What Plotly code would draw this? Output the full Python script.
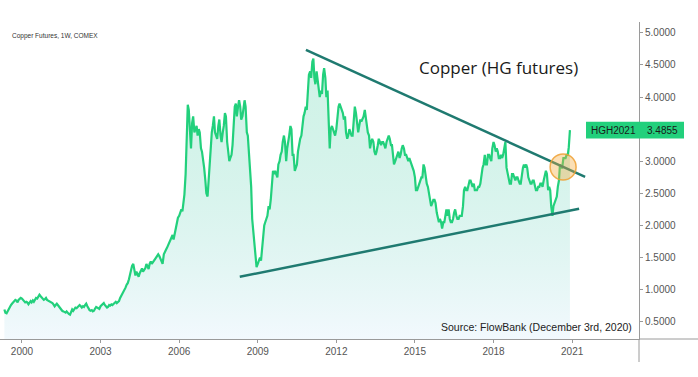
import pandas as pd
import plotly.graph_objects as go

# semi-monthly closes (1st and 15th of each month)
v1999 = [0.69, 0.64, 0.63, 0.66, 0.70, 0.74, 0.76, 0.78, 0.80, 0.82, 0.84, 0.83, 0.80, 0.84, 0.86, 0.87]
v2000 = [0.86, 0.84, 0.82, 0.80, 0.81, 0.80, 0.77, 0.79, 0.82, 0.80, 0.83, 0.81,
         0.85, 0.87, 0.86, 0.89, 0.92, 0.90, 0.88, 0.86, 0.84, 0.85, 0.87, 0.84]
v2001 = [0.83, 0.82, 0.81, 0.80, 0.79, 0.77, 0.74, 0.76, 0.78, 0.76, 0.73, 0.71,
         0.68, 0.67, 0.66, 0.65, 0.64, 0.66, 0.63, 0.62, 0.61, 0.66, 0.69, 0.67]
v2002 = [0.70, 0.72, 0.71, 0.73, 0.75, 0.76, 0.74, 0.72, 0.74, 0.73, 0.76, 0.78,
         0.74, 0.70, 0.68, 0.67, 0.68, 0.66, 0.67, 0.70, 0.73, 0.72, 0.71, 0.70]
v2003 = [0.74, 0.76, 0.77, 0.79, 0.76, 0.74, 0.72, 0.73, 0.76, 0.75, 0.77, 0.76,
         0.78, 0.80, 0.81, 0.79, 0.80, 0.82, 0.87, 0.90, 0.92, 0.95, 0.98, 1.03]
v2004 = [1.08, 1.10, 1.16, 1.25, 1.33, 1.37, 1.40, 1.32, 1.22, 1.28, 1.24, 1.20,
         1.26, 1.30, 1.33, 1.28, 1.30, 1.33, 1.40, 1.36, 1.32, 1.40, 1.44, 1.40]
v2005 = [1.42, 1.45, 1.48, 1.50, 1.52, 1.55, 1.52, 1.48, 1.45, 1.40, 1.55, 1.60,
         1.62, 1.65, 1.70, 1.72, 1.78, 1.82, 1.85, 1.78, 1.88, 1.95, 2.05, 2.12]
v2006 = [2.15, 2.20, 2.25, 2.22, 2.35, 2.48, 2.80, 3.30, 3.88, 3.80, 3.40, 3.20,
         3.60, 3.70, 3.45, 3.50, 3.55, 3.40, 3.50, 3.45, 3.20, 3.15, 3.05, 2.90]
v2007 = [2.70, 2.50, 2.45, 2.70, 2.95, 3.10, 3.45, 3.55, 3.70, 3.45, 3.40, 3.35,
         3.55, 3.65, 3.40, 3.30, 3.45, 3.55, 3.75, 3.70, 3.30, 3.10, 3.00, 3.05]
v2008 = [3.10, 3.25, 3.50, 3.85, 3.90, 3.70, 3.85, 3.95, 3.85, 3.65, 3.70, 3.80,
         3.95, 3.85, 3.45, 3.40, 3.10, 2.95, 2.60, 2.10, 1.85, 1.70, 1.45, 1.35]
v2009 = [1.40, 1.45, 1.50, 1.45, 1.65, 1.85, 2.00, 2.05, 2.10, 2.15, 2.30, 2.25,
         2.40, 2.65, 2.85, 2.80, 2.85, 2.80, 2.75, 2.95, 3.00, 3.10, 3.15, 3.30]
v2010 = [3.40, 3.30, 3.00, 3.20, 3.35, 3.40, 3.55, 3.50, 3.10, 3.10, 2.85, 2.90,
         2.95, 3.15, 3.30, 3.35, 3.40, 3.55, 3.70, 3.75, 3.85, 3.80, 4.10, 4.35]
v2011 = [4.40, 4.30, 4.55, 4.60, 4.30, 4.20, 4.40, 4.25, 4.05, 4.00, 4.10, 4.05,
         4.35, 4.45, 4.30, 4.00, 4.10, 3.55, 3.20, 3.50, 3.55, 3.50, 3.45, 3.40]
v2012 = [3.50, 3.70, 3.85, 3.90, 3.85, 3.80, 3.75, 3.65, 3.70, 3.45, 3.35, 3.40,
         3.50, 3.45, 3.40, 3.40, 3.60, 3.85, 3.75, 3.60, 3.45, 3.55, 3.65, 3.62]
v2013 = [3.68, 3.70, 3.80, 3.65, 3.55, 3.45, 3.40, 3.20, 3.30, 3.35, 3.30, 3.15,
         3.10, 3.15, 3.25, 3.35, 3.30, 3.25, 3.30, 3.30, 3.25, 3.20, 3.30, 3.35]
v2014 = [3.40, 3.35, 3.25, 3.25, 3.10, 2.95, 3.00, 3.05, 3.10, 3.15, 3.05, 3.10,
         3.20, 3.25, 3.20, 3.10, 3.10, 3.05, 3.00, 3.05, 3.00, 2.95, 2.90, 2.85]
v2015 = [2.75, 2.55, 2.55, 2.60, 2.65, 2.70, 2.75, 2.75, 2.95, 2.90, 2.75, 2.65,
         2.60, 2.50, 2.35, 2.30, 2.35, 2.40, 2.40, 2.35, 2.20, 2.10, 2.05, 2.10]
v2016 = [2.05, 1.95, 2.05, 2.05, 2.20, 2.25, 2.15, 2.25, 2.10, 2.05, 2.05, 2.10,
         2.20, 2.25, 2.15, 2.10, 2.10, 2.15, 2.15, 2.15, 2.30, 2.55, 2.60, 2.55]
v2017 = [2.55, 2.65, 2.70, 2.70, 2.65, 2.60, 2.65, 2.55, 2.55, 2.55, 2.60, 2.60,
         2.65, 2.80, 2.90, 2.95, 3.10, 2.95, 2.95, 3.10, 3.10, 3.05, 3.00, 3.20]
v2018 = [3.30, 3.25, 3.15, 3.20, 3.15, 3.05, 3.05, 3.10, 3.05, 3.10, 3.20, 3.30,
         2.90, 2.80, 2.75, 2.65, 2.65, 2.80, 2.80, 2.75, 2.70, 2.75, 2.75, 2.70]
v2019 = [2.65, 2.65, 2.80, 2.90, 2.95, 2.90, 2.95, 2.90, 2.75, 2.70, 2.65, 2.65,
         2.70, 2.70, 2.60, 2.55, 2.55, 2.60, 2.60, 2.65, 2.65, 2.60, 2.70, 2.80]
v2020 = [2.85, 2.80, 2.55, 2.60, 2.55, 2.30, 2.15, 2.30, 2.35, 2.40, 2.45, 2.60,
         2.70, 2.95, 2.90, 2.90, 3.05, 3.05, 3.05, 3.10, 3.10, 3.22, 3.4855]

last_label = "HGH2021"
last_price = 3.4855

# hand-drawn trend lines (date, price)
upper_dates = ["2010-11-03", "2021-07-01"]
upper_vals = [4.735, 2.757]
lower_dates = ["2008-04-25", "2021-04-08"]
lower_vals = [1.20, 2.26]
# highlight circle
circle_date = ["2020-08-28"]
circle_val = [2.91]

# the 3.5 tick is hidden behind the last-price label in the reference
yticks = [0.5, 1.0, 1.5, 2.0, 2.5, 3.0, 4.0, 4.5, 5.0]

values = (v1999 + v2000 + v2001 + v2002 + v2003 + v2004 + v2005 + v2006 + v2007 + v2008
          + v2009 + v2010 + v2011 + v2012 + v2013 + v2014 + v2015 + v2016 + v2017
          + v2018 + v2019 + v2020)
dates = pd.date_range("1999-05-01", periods=len(values), freq="SMS")

LINE = "#22d07c"
TEAL = "#1f7a70"
GRAY = "#555555"
AX = "#9a9a9a"

fig = go.Figure()
fig.add_trace(go.Scatter(
    x=dates, y=values, mode="lines",
    line=dict(color=LINE, width=2.2),
    fill="tozeroy",
    fillgradient=dict(type="vertical", start=0.23, stop=4.8,
                      colorscale=[[0, "rgba(232,244,252,0.55)"],
                                  [1, "rgba(90,212,170,0.28)"]]),
    hoverinfo="skip", showlegend=False))
fig.add_trace(go.Scatter(x=upper_dates, y=upper_vals, mode="lines",
                         line=dict(color=TEAL, width=2.5), showlegend=False))
fig.add_trace(go.Scatter(x=lower_dates, y=lower_vals, mode="lines",
                         line=dict(color=TEAL, width=2.5), showlegend=False))
fig.add_trace(go.Scatter(x=circle_date, y=circle_val, mode="markers",
                         marker=dict(size=26, color="rgba(245,170,60,0.38)",
                                     line=dict(color="rgba(238,160,50,0.85)", width=1.5)),
                         showlegend=False))

W, H = 698, 377
L, R, T, B = 0, 59, 22, 38
pw = W - L - R
ph = H - T - B

shapes = [
    # price label box
    dict(type="rect", xref="paper", yref="y", x0=586 / pw, x1=684 / pw,
         y0=last_price - 8.3 / 64.2, y1=last_price + 8.3 / 64.2,
         fillcolor="#22d07c", line=dict(width=0), layer="above"),
    # axis extensions
    dict(type="line", xref="paper", yref="paper", x0=1, x1=1, y0=0, y1=-23 / ph,
         line=dict(color=AX, width=1)),
    dict(type="line", xref="paper", yref="paper", x0=1, x1=W / pw, y0=0, y1=0,
         line=dict(color=AX, width=1)),
]

annotations = [
    dict(text="Copper Futures, 1W, COMEX", xref="paper", yref="paper",
         x=10 / pw, y=1 - (36 - T) / ph, xanchor="left", yanchor="middle",
         showarrow=False, font=dict(size=6.5, color="#333333", family="Liberation Sans")),
    dict(text="Copper (HG futures)", xref="paper", yref="paper",
         x=498 / pw, y=1 - (67 - T) / ph, xanchor="center", yanchor="middle",
         showarrow=False, font=dict(size=17, color="#1a1a1a", family="Open Sans")),
    dict(text="Source: FlowBank (December 3rd, 2020)", xref="paper", yref="paper",
         x=634 / pw, y=1 - (327 - T) / ph, xanchor="right", yanchor="middle",
         showarrow=False, font=dict(size=10.5, color="#222222", family="Liberation Sans")),
    dict(text=last_label, xref="paper", yref="y", x=613 / pw, y=last_price,
         xanchor="center", yanchor="middle", showarrow=False,
         font=dict(size=10, color="#1a1a1a", family="Liberation Sans")),
    dict(text=f"{last_price:.4f}", xref="paper", yref="y", x=662 / pw, y=last_price,
         xanchor="center", yanchor="middle", showarrow=False,
         font=dict(size=10, color="#1a1a1a", family="Liberation Sans")),
]

fig.update_layout(
    width=W, height=H,
    margin=dict(l=L, r=R, t=T, b=B),
    paper_bgcolor="white", plot_bgcolor="white",
    shapes=shapes, annotations=annotations,
    xaxis=dict(type="date", range=["1999-03-01", "2023-07-22"],
               tick0="2000-01-01", dtick="M36", tickformat="%Y",
               showgrid=False, zeroline=False,
               showline=True, linecolor=AX, linewidth=1,
               ticks="outside", ticklen=3, tickcolor=AX,
               tickfont=dict(size=10, color=GRAY, family="Liberation Sans")),
    yaxis=dict(side="right", range=[0.23, 5.17], tickvals=yticks,
               tickformat=".4f", showgrid=False, zeroline=False,
               showline=True, linecolor=AX, linewidth=1,
               ticks="outside", ticklen=3, tickcolor=AX,
               tickfont=dict(size=10, color=GRAY, family="Liberation Sans")),
    hovermode=False,
)

fig.write_html("out.html", config={"displayModeBar": False},
               post_script="document.body.style.margin='0';")
